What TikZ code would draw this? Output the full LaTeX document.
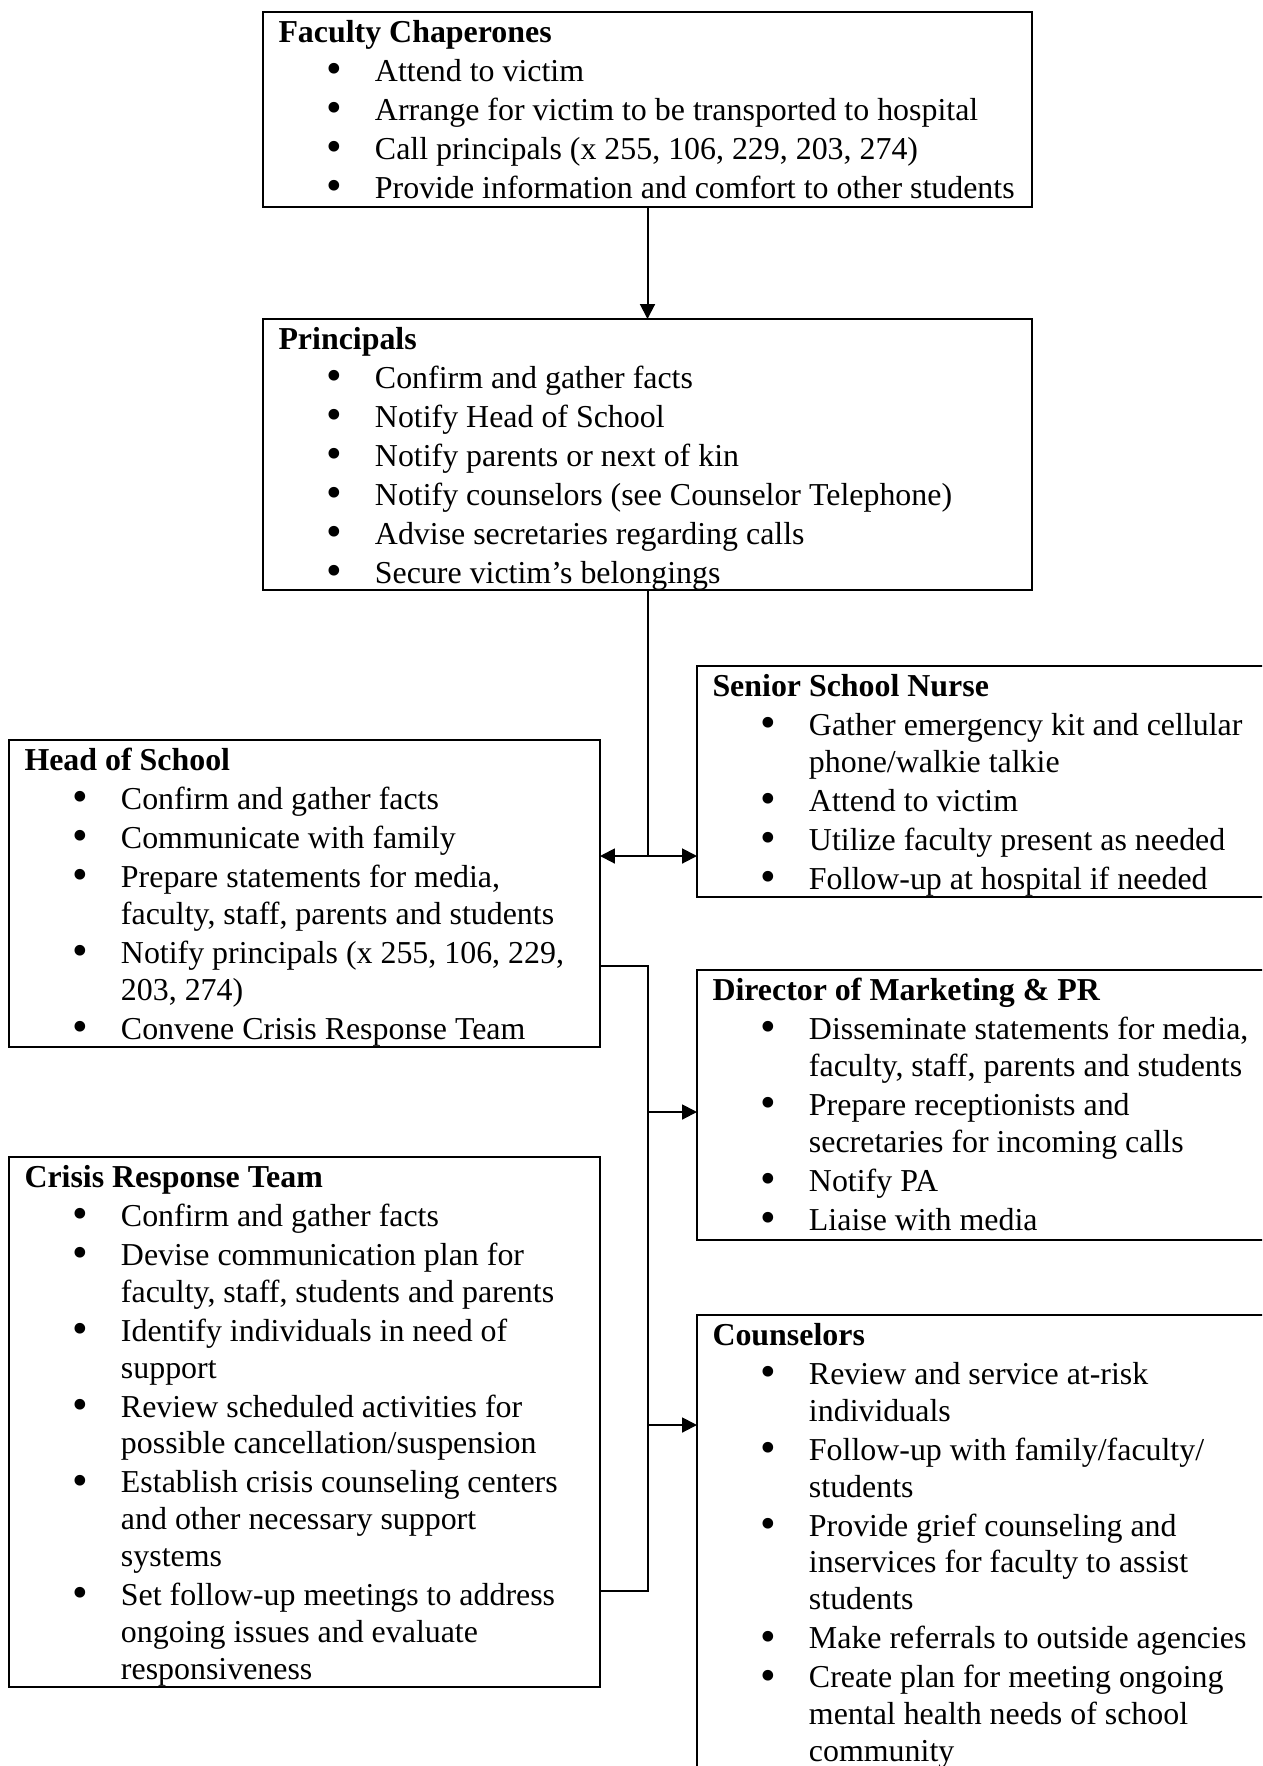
\documentclass[tikz,border=0pt]{standalone}
\usepackage{fontspec}
\usepackage{graphicx}
\setmainfont{Liberation Serif}
\usetikzlibrary{arrows.meta,fit}

% bullet list inside the boxes
\newlength\bhang \setlength\bhang{36.3pt}
\newcommand\bitem[1]{\par\leavevmode\hangindent=\bhang\hangafter=0
  \llap{\makebox[\bhang][l]{\hspace{18.0pt}\raisebox{-0.9pt}{\scalebox{1.4}{\textbullet}}}}#1\par}
\newcommand\boxtext[2]{\parbox[t]{280pt}{\fontsize{12pt}{13.84pt}\selectfont
  \raggedright\parskip=0.83pt\relax\textbf{#1}#2}}

\tikzset{
  frame/.style={draw, line width=1.1pt, inner sep=0pt, outer sep=0pt},
  txt/.style={anchor=base west, inner sep=0pt, outer sep=0pt},
  link/.style={line width=0.75pt},
  arr/.style={link, -{Triangle[length=5.6pt,width=5.6pt]}},
  darr/.style={link, {Triangle[length=5.6pt,width=5.6pt]}-{Triangle[length=5.6pt,width=5.6pt]}}
}

\begin{document}
\begin{tikzpicture}[x=0.3762pt, y=-0.3762pt]
\useasboundingbox (0,0) rectangle (1262,1766);
\clip (0,0) rectangle (1262,1766);

% frames
\node[frame, fit={(263,12) (1032,207)}] (fc) {};
\node[frame, fit={(263,319) (1032,590)}] (pr) {};
\node[frame, fit={(9,740) (600,1047)}] (hos) {};
\node[frame, fit={(697,666) (1290,897)}] (nurse) {};
\node[frame, fit={(697,970) (1290,1240)}] (mkt) {};
\node[frame, fit={(9,1157) (600,1687)}] (crt) {};
\node[frame, fit={(697,1315) (1290,1800)}] (couns) {};

% texts
\node[txt] (fc-t) at ([shift={(15.5,30.5)}]fc.north west) {\boxtext{Faculty Chaperones}{%
  \bitem{Attend to victim}
  \bitem{Arrange for victim to be transported to hospital}
  \bitem{Call principals (x 255, 106, 229, 203, 274)}
  \bitem{Provide information and comfort to other students}}};

\node[txt] (pr-t) at ([shift={(15.5,30.5)}]pr.north west) {\boxtext{Principals}{%
  \bitem{Confirm and gather facts}
  \bitem{Notify Head of School}
  \bitem{Notify parents or next of kin}
  \bitem{Notify counselors (see Counselor Telephone)}
  \bitem{Advise secretaries regarding calls}
  \bitem{Secure victim’s belongings}}};

\node[txt] (hos-t) at ([shift={(15.5,30.5)}]hos.north west) {\boxtext{Head of School}{%
  \bitem{Confirm and gather facts}
  \bitem{Communicate with family}
  \bitem{Prepare statements for media,\newline faculty, staff, parents and students}
  \bitem{Notify principals (x 255, 106, 229,\newline 203, 274)}
  \bitem{Convene Crisis Response Team}}};

\node[txt] (nurse-t) at ([shift={(15.5,30.5)}]nurse.north west) {\boxtext{Senior School Nurse}{%
  \bitem{Gather emergency kit and cellular\newline phone/walkie talkie}
  \bitem{Attend to victim}
  \bitem{Utilize faculty present as needed}
  \bitem{Follow-up at hospital if needed}}};

\node[txt] (mkt-t) at ([shift={(15.5,30.5)}]mkt.north west) {\boxtext{Director of Marketing \& PR}{%
  \bitem{Disseminate statements for media,\newline faculty, staff, parents and students}
  \bitem{Prepare receptionists and\newline secretaries for incoming calls}
  \bitem{Notify PA}
  \bitem{Liaise with media}}};

\node[txt] (crt-t) at ([shift={(15.5,30.5)}]crt.north west) {\boxtext{Crisis Response Team}{%
  \bitem{Confirm and gather facts}
  \bitem{Devise communication plan for\newline faculty, staff, students and parents}
  \bitem{Identify individuals in need of\newline support}
  \bitem{Review scheduled activities for\newline possible cancellation/suspension}
  \bitem{Establish crisis counseling centers\newline and other necessary support\newline systems}
  \bitem{Set follow-up meetings to address\newline ongoing issues and evaluate\newline responsiveness}}};

\node[txt] (couns-t) at ([shift={(15.5,30.5)}]couns.north west) {\boxtext{Counselors}{%
  \bitem{Review and service at-risk\newline individuals}
  \bitem{Follow-up with family/faculty/\newline students}
  \bitem{Provide grief counseling and\newline inservices for faculty to assist\newline students}
  \bitem{Make referrals to outside agencies}
  \bitem{Create plan for meeting ongoing\newline mental health needs of school\newline community}}};

% connectors
\coordinate (split) at (647.5,856);
\coordinate (bustop) at (648,966);
\coordinate (busbot) at (648,1591);
\coordinate (tapm) at (648,1112);
\coordinate (tapc) at (648,1425);

\draw[arr] (fc.south) -- (pr.north);
\draw[link] (pr.south) -- (split);
\draw[darr] (hos.east |- split) -- (nurse.west |- split);
\draw[link] (hos.east |- bustop) -- (bustop) -- (busbot) -- (crt.east |- busbot);
\draw[arr] (tapm) -- (mkt.west |- tapm);
\draw[arr] (tapc) -- (couns.west |- tapc);
\end{tikzpicture}
\end{document}
